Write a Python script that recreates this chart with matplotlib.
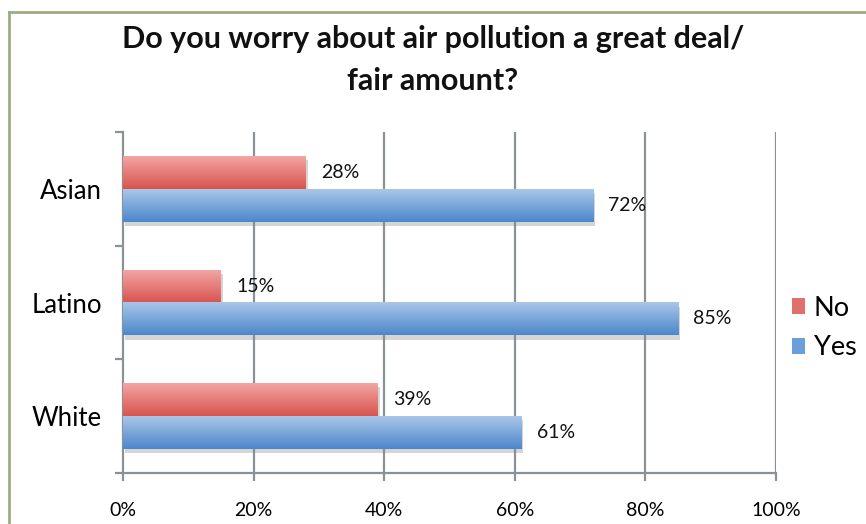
import matplotlib
matplotlib.use("Agg")
import matplotlib.pyplot as plt
import matplotlib.patheffects as pe
from matplotlib.colors import LinearSegmentedColormap
from matplotlib.patches import Patch
from matplotlib.lines import Line2D
import numpy as np

groups = ["Asian", "Latino", "White"]
no_vals = [28, 15, 39]
yes_vals = [72, 85, 61]
xticks = [0, 20, 40, 60, 80, 100]
xtick_labels = ["0%", "20%", "40%", "60%", "80%", "100%"]

plt.rcParams["font.family"] = ["Lato", "DejaVu Sans"]

fig = plt.figure(figsize=(8.66, 5.24), dpi=100)
W, H = 866, 524
ax = fig.add_axes([123 / W, (H - 473) / H, (776 - 123) / W, (473 - 132) / H])

ypos = np.arange(len(groups))[::-1]
h = 0.29
grey = "#8b9297"

red_cm = LinearSegmentedColormap.from_list("r", ["#d8544f", "#f2a5a3"])
blue_cm = LinearSegmentedColormap.from_list("b", ["#4c87cc", "#a9c6e8"])
grad = np.linspace(0, 1, 64).reshape(-1, 1)
shadow = [pe.SimplePatchShadow(offset=(1.5, -3), shadow_rgbFace="#888888", alpha=0.35), pe.Normal()]

def draw_bars(vals, offset, cmap, base):
    bars = ax.barh(ypos + offset, vals, height=h, color=base, zorder=3,
                   path_effects=shadow)
    for b in bars:
        x0, y0, w, hh = b.get_x(), b.get_y(), b.get_width(), b.get_height()
        ax.imshow(grad, extent=[x0, x0 + w, y0, y0 + hh], origin="lower",
                  cmap=cmap, aspect="auto", zorder=4)
    return bars

no_bars = draw_bars(no_vals, h / 2, red_cm, "#e06a66")
yes_bars = draw_bars(yes_vals, -h / 2, blue_cm, "#6a9fdb")

for bars, vals in [(no_bars, no_vals), (yes_bars, yes_vals)]:
    for b, v in zip(bars, vals):
        ax.annotate(f"{v}%", (v, b.get_y() + b.get_height() / 2),
                    xytext=(11, 0), textcoords="offset points",
                    va="center", ha="left", fontsize=14, color="#111111")

ax.set_xlim(0, 100)
ax.set_ylim(-0.5, len(groups) - 0.5)
ax.set_aspect("auto")

for x in xticks[1:]:
    ax.axvline(x, color=grey, lw=1.6, zorder=1)

for s in ["top", "right"]:
    ax.spines[s].set_visible(False)
for s in ["left", "bottom"]:
    ax.spines[s].set_color(grey)
    ax.spines[s].set_linewidth(1.6)

ax.set_xticks(xticks)
ax.set_xticklabels(xtick_labels, fontsize=14)
ax.tick_params(axis="x", length=6, width=1.6, color=grey, pad=15)
ax.set_yticks(ypos)
ax.set_yticklabels(groups, fontsize=18.5)
ax.tick_params(axis="y", length=0, pad=15)
ax.set_yticks(np.arange(-0.5, len(groups), 1.0), minor=True)
ax.tick_params(axis="y", which="minor", length=6, width=1.6, color=grey)

fig.text(433 / W, 1 - 60 / H, "Do you worry about air pollution a great deal/\nfair amount?",
         ha="center", va="center", fontsize=22, fontweight="bold",
         linespacing=1.6, color="#111111")

handles = [Patch(facecolor="#e0706c", label="No"), Patch(facecolor="#6a9fdb", label="Yes")]
fig.legend(handles=handles, loc="center left", bbox_to_anchor=(781 / W, 1 - 328 / H),
           frameon=False, fontsize=19.5, handlelength=0.5, handleheight=0.5,
           handletextpad=0.3, labelspacing=0.55, borderaxespad=0)

border = "#9cad84"
fig.add_artist(Line2D([8.5 / W, 8.5 / W], [0, 1 - 12 / H], color=border, lw=2))
fig.add_artist(Line2D([8.5 / W, 1], [1 - 12 / H, 1 - 12 / H], color=border, lw=2))

fig.savefig("out.png", dpi=100)
